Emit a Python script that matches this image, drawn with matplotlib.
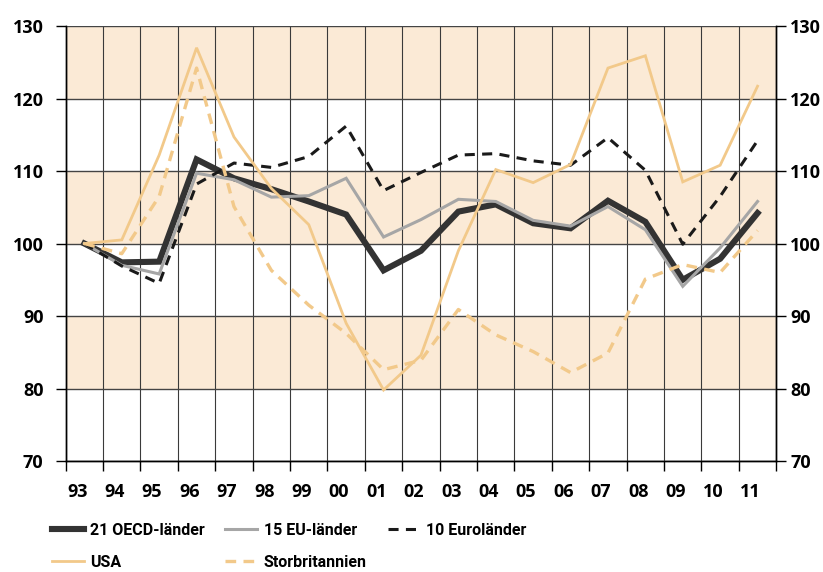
import matplotlib.pyplot as plt
import numpy as np

# years (category labels) and index values, 1993 = 100
years = ['93', '94', '95', '96', '97', '98', '99', '00', '01', '02',
         '03', '04', '05', '06', '07', '08', '09', '10', '11']
oecd21 = [100, 97.4, 97.5, 111.6, 109.0, 107.5, 105.8, 104.0, 96.3, 99.0,
          104.4, 105.4, 102.8, 102.1, 105.9, 103.0, 95.0, 97.9, 104.2]
eu15 = [100, 97.0, 95.8, 109.7, 108.8, 106.4, 106.6, 109.0, 100.9, 103.3,
        106.1, 105.8, 103.2, 102.4, 105.1, 101.9, 94.1, 99.4, 105.8]
euro10 = [100, 96.9, 94.5, 108.2, 111.1, 110.5, 112.0, 116.2, 107.3, 109.8,
          112.2, 112.4, 111.4, 110.8, 114.6, 110.1, 99.9, 106.5, 114.2]
usa = [100, 100.5, 112.2, 127.0, 114.7, 107.6, 102.6, 89.0, 79.8, 84.6,
       99.0, 110.2, 108.4, 110.9, 124.2, 125.9, 108.5, 110.8, 121.7]
uk = [100, 98.6, 106.5, 124.2, 105.1, 96.3, 91.5, 87.6, 82.6, 83.9,
      90.9, 87.4, 85.1, 82.2, 84.9, 95.1, 97.1, 96.0, 101.8]

tan = '#F2C98A'
shade = '#FBEAD6'
tickfont = dict(family=['Open Sans', 'DejaVu Sans'], weight='bold', size=13)

fig = plt.figure(figsize=(8.23, 5.72), dpi=100)
ax = fig.add_axes([0.0798, 0.194, 0.8634, 0.7605])

x = np.arange(len(years))

# shaded bands
for lo in (80, 100, 120):
    ax.axhspan(lo, lo + 10, color=shade, lw=0, zorder=0)

l_oecd, = ax.plot(x, oecd21, color='#333333', lw=4.4, solid_joinstyle='miter', zorder=3)
l_eu, = ax.plot(x, eu15, color='#A6A6A6', lw=2.2, solid_joinstyle='miter', zorder=4)
l_euro, = ax.plot(x, euro10, color='#1a1a1a', lw=2.2, ls=(0, (3.3, 2.4)), zorder=5)
l_usa, = ax.plot(x, usa, color=tan, lw=2.0, solid_joinstyle='miter', zorder=6)
l_uk, = ax.plot(x, uk, color=tan, lw=2.4, ls=(0, (3.2, 2.2)), zorder=7)

ax.set_xlim(-0.5, len(years) - 0.5)
ax.set_ylim(70, 130)

# gridlines at band edges, labels slightly left of centre
ax.set_xticks(np.arange(-0.5, len(years)))
ax.set_xticklabels([])
ax.set_xticks(x - 0.19, years, minor=True)
ax.tick_params(axis='x', which='major', direction='out', length=7, width=1, color='black')
ax.tick_params(axis='x', which='minor', length=0, pad=16)
for lab in ax.get_xticklabels(minor=True):
    lab.set_fontproperties(tickfont)
    lab.set_fontsize(13)
    lab.set_fontweight('bold')
ax.grid(axis='x', which='major', color='#3a3a3a', lw=0.8, zorder=1)

yt = np.arange(70, 131, 10)
ax.set_yticks(yt)
ax.set_yticklabels([str(v) for v in yt], **tickfont)
ax.tick_params(axis='y', direction='out', length=7, width=1, pad=9)
ax.grid(axis='y', color='#444444', lw=1.0, zorder=1)
ax.set_axisbelow(False)

ax2 = ax.twinx()
ax2.set_ylim(70, 130)
ax2.set_yticks(yt)
ax2.set_yticklabels([str(v) for v in yt], **tickfont)
ax2.tick_params(axis='y', direction='out', length=7, width=1, pad=3)

for a in (ax, ax2):
    a.spines['top'].set_visible(False)
    for s in ('left', 'right', 'bottom'):
        a.spines[s].set_linewidth(1.0)
        a.spines[s].set_color('black')

fig.legend([l_oecd, l_usa, l_eu, l_uk, l_euro],
           ['21 OECD-länder', 'USA', '15 EU-länder', 'Storbritannien', '10 Euroländer'],
           ncol=3, loc='upper left', bbox_to_anchor=(0.053, 0.1),
           frameon=False, borderpad=0, handlelength=2.0, handletextpad=0.4,
           labelspacing=1.05, columnspacing=1.3,
           prop=dict(family=['Roboto', 'DejaVu Sans'], weight='bold', size=11.5))

fig.savefig('out.png', dpi=100)
